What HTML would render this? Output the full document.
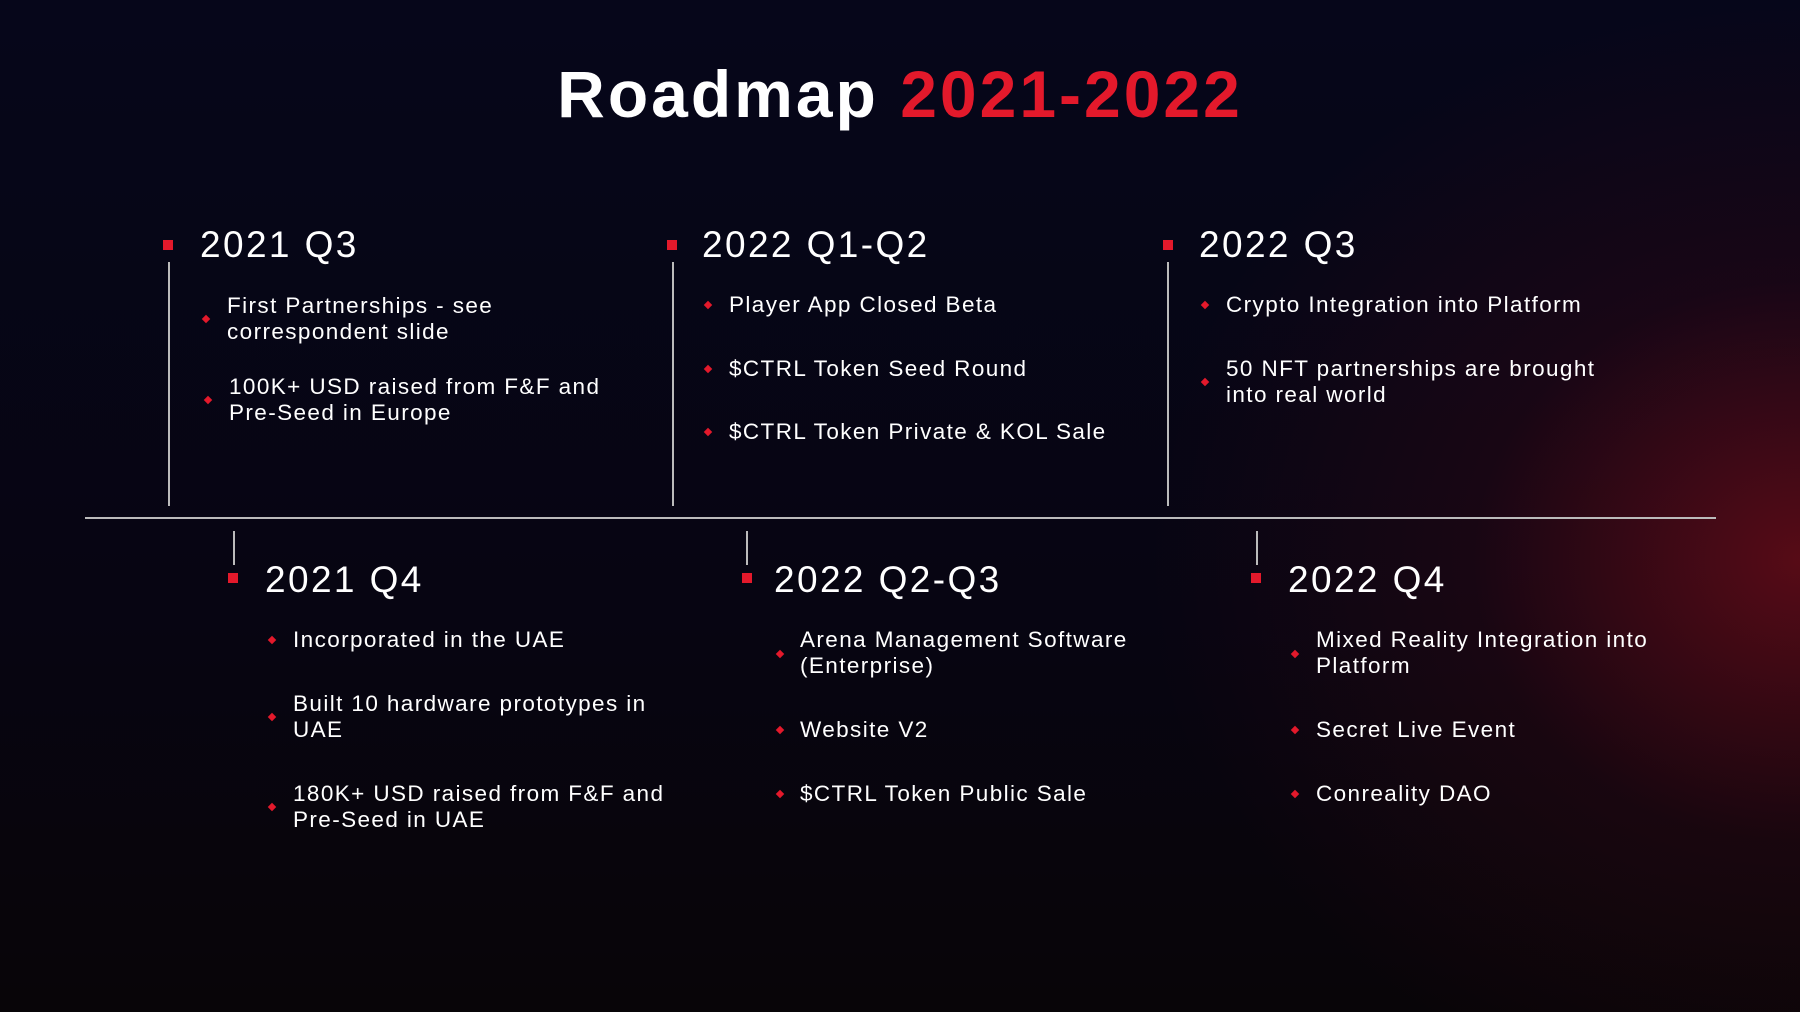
<!DOCTYPE html>
<html><head><meta charset="utf-8"><style>
body{margin:0;width:1800px;height:1012px;overflow:hidden;font-family:"Liberation Sans",sans-serif;color:#fff;
background:radial-gradient(ellipse 650px 560px at 1800px 560px,rgba(140,15,25,.6),rgba(70,8,20,.28) 50%,rgba(0,0,0,0) 100%),linear-gradient(180deg,#06061a 0%,#070512 60%,#080508 100%);position:relative}
.t{position:absolute;left:0;width:1800px;top:56px;text-align:center;font-size:66px;font-weight:bold;letter-spacing:3px}
.t span{color:#e3192b}
.h{position:absolute;font-size:37px;letter-spacing:2.4px;line-height:40px}
.sq{position:absolute;width:10px;height:10px;background:#e3192b}
.v{position:absolute;width:2px;background:#bbb}
.i{position:absolute;font-size:22.5px;line-height:26px;letter-spacing:1.4px}
.d{position:absolute;width:6px;height:6px;background:#e3192b;transform:rotate(45deg)}
</style></head><body>
<div class="t">Roadmap <span>2021-2022</span></div>
<div style="position:absolute;left:85px;top:517px;width:1631px;height:2px;background:#bbb"></div>

<div class="sq" style="left:163px;top:240px"></div><div class="h" style="left:200px;top:225px">2021 Q3</div><div class="v" style="left:168px;top:262px;height:244px"></div>
<div class="sq" style="left:667px;top:240px"></div><div class="h" style="left:702px;top:225px">2022 Q1-Q2</div><div class="v" style="left:672px;top:262px;height:244px"></div>
<div class="sq" style="left:1163px;top:240px"></div><div class="h" style="left:1199px;top:225px">2022 Q3</div><div class="v" style="left:1167px;top:262px;height:244px"></div>

<div class="v" style="left:233px;top:531px;height:34px"></div><div class="sq" style="left:228px;top:573px"></div><div class="h" style="left:265px;top:560px">2021 Q4</div>
<div class="v" style="left:746px;top:531px;height:34px"></div><div class="sq" style="left:742px;top:573px"></div><div class="h" style="left:774px;top:560px">2022 Q2-Q3</div>
<div class="v" style="left:1256px;top:531px;height:34px"></div><div class="sq" style="left:1251px;top:573px"></div><div class="h" style="left:1288px;top:560px">2022 Q4</div>

<div class="d" style="left:203px;top:316px"></div><div class="i" style="left:227px;top:293px">First Partnerships - see<br>correspondent slide</div>
<div class="d" style="left:205px;top:397px"></div><div class="i" style="left:229px;top:374px">100K+ USD raised from F&amp;F and<br>Pre-Seed in Europe</div>

<div class="d" style="left:705px;top:302px"></div><div class="i" style="left:729px;top:292px">Player App Closed Beta</div>
<div class="d" style="left:705px;top:366px"></div><div class="i" style="left:729px;top:356px">$CTRL Token Seed Round</div>
<div class="d" style="left:705px;top:429px"></div><div class="i" style="left:729px;top:419px">$CTRL Token Private &amp; KOL Sale</div>

<div class="d" style="left:1202px;top:302px"></div><div class="i" style="left:1226px;top:292px">Crypto Integration into Platform</div>
<div class="d" style="left:1202px;top:379px"></div><div class="i" style="left:1226px;top:356px">50 NFT partnerships are brought<br>into real world</div>

<div class="d" style="left:269px;top:637px"></div><div class="i" style="left:293px;top:627px">Incorporated in the UAE</div>
<div class="d" style="left:269px;top:714px"></div><div class="i" style="left:293px;top:691px">Built 10 hardware prototypes in<br>UAE</div>
<div class="d" style="left:269px;top:804px"></div><div class="i" style="left:293px;top:781px">180K+ USD raised from F&amp;F and<br>Pre-Seed in UAE</div>

<div class="d" style="left:777px;top:651px"></div><div class="i" style="left:800px;top:627px">Arena Management Software<br>(Enterprise)</div>
<div class="d" style="left:777px;top:727px"></div><div class="i" style="left:800px;top:717px">Website V2</div>
<div class="d" style="left:777px;top:791px"></div><div class="i" style="left:800px;top:781px">$CTRL Token Public Sale</div>

<div class="d" style="left:1292px;top:651px"></div><div class="i" style="left:1316px;top:627px">Mixed Reality Integration into<br>Platform</div>
<div class="d" style="left:1292px;top:727px"></div><div class="i" style="left:1316px;top:717px">Secret Live Event</div>
<div class="d" style="left:1292px;top:791px"></div><div class="i" style="left:1316px;top:781px">Conreality DAO</div>
</body></html>
